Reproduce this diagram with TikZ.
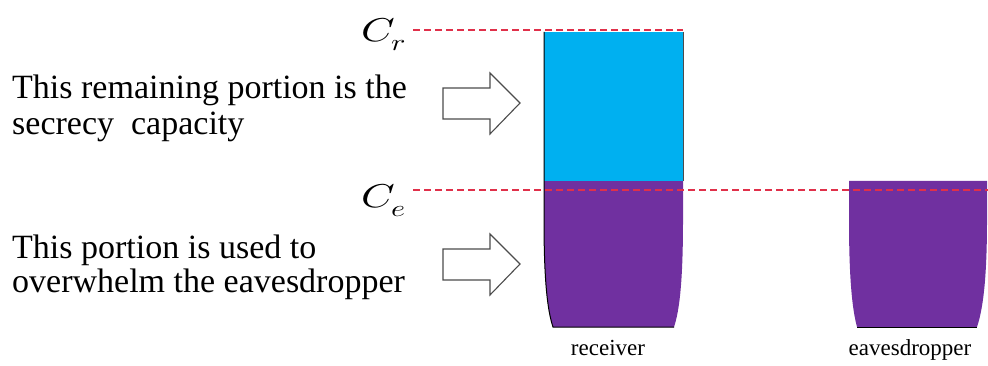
\documentclass[tikz,border=0pt]{standalone}
\usepackage{fontspec}
\setmainfont{Liberation Serif}
\usepackage{unicode-math}
\setmathfont{Latin Modern Math}
\definecolor{cupblue}{HTML}{00B0F0}
\definecolor{cuppurple}{HTML}{7030A0}
\definecolor{dashred}{HTML}{E0304A}
\begin{document}
\begin{tikzpicture}[x=1pt,y=-1pt,
  lvl/.style={draw=dashred,line width=1.4pt,dash pattern=on 7pt off 4pt},
  bigarrow/.style={draw=black!70,fill=white,line width=1.1pt,line join=miter},
  desc/.style={anchor=base west,align=left,font=\fontsize{34}{36}\selectfont,inner sep=0pt},
  desctwo/.style={anchor=base west,align=left,font=\fontsize{34}{33.5}\selectfont,inner sep=0pt},
  cuplabel/.style={anchor=base,font=\fontsize{23}{26}\selectfont,inner sep=0pt},
  sym/.style={anchor=base west,font=\fontsize{33}{36}\selectfont,inner sep=0pt}]
\useasboundingbox (0,0) rectangle (988,366);
% receiver cup
\fill[cuppurple] (544,181) -- (544,220) .. controls (544,285) and (548,312) .. (553,327) -- (674,327) .. controls (679,312) and (683,285) .. (683,220) -- (683,181) -- cycle;
\fill[cupblue] (544,32) rectangle (683,181);
\draw[line width=1pt] (544,32) -- (544,220) .. controls (544,285) and (548,312) .. (553,327) -- (674,327);
\draw[line width=0.5pt,black!70] (683,32) -- (683,181);
% eavesdropper cup
\fill[cuppurple] (849,181) -- (849,220) .. controls (849,285) and (853,312) .. (857,327) -- (977,327) .. controls (982,312) and (987,285) .. (987,220) -- (987,181) -- cycle;
\draw[line width=1pt] (857,327) -- (977,327);
% levels
\coordinate (cr0) at (413,30);
\coordinate (cr1) at (683,30);
\coordinate (ce0) at (413,190);
\coordinate (ce1) at (988,190);
\draw[lvl] (cr0) -- (cr1);
\draw[lvl] (ce0) -- (ce1);
\node[sym] (Cr) at (361,42) {\scalebox{1.3}[1]{$C_r$}};
\node[sym] (Ce) at (361,208) {\scalebox{1.3}[1]{$C_e$}};
% arrows
\draw[bigarrow] (443,88) -- (490,88) -- (490,73) -- (520,103) -- (490,134) -- (490,119) -- (443,119) -- cycle;
\draw[bigarrow] (443,249) -- (490,249) -- (490,234) -- (520,264) -- (490,295) -- (490,280) -- (443,280) -- cycle;
% texts
\node[desc] (t1) at (12,135) {This remaining portion is the\\secrecy \ capacity};
\node[desctwo] (t2) at (12,292) {This portion is used to\\overwhelm the eavesdropper};
\node[cuplabel] (rl) at (608,355) {receiver};
\node[cuplabel] (el) at (910,355) {eavesdropper};
\end{tikzpicture}
\end{document}
